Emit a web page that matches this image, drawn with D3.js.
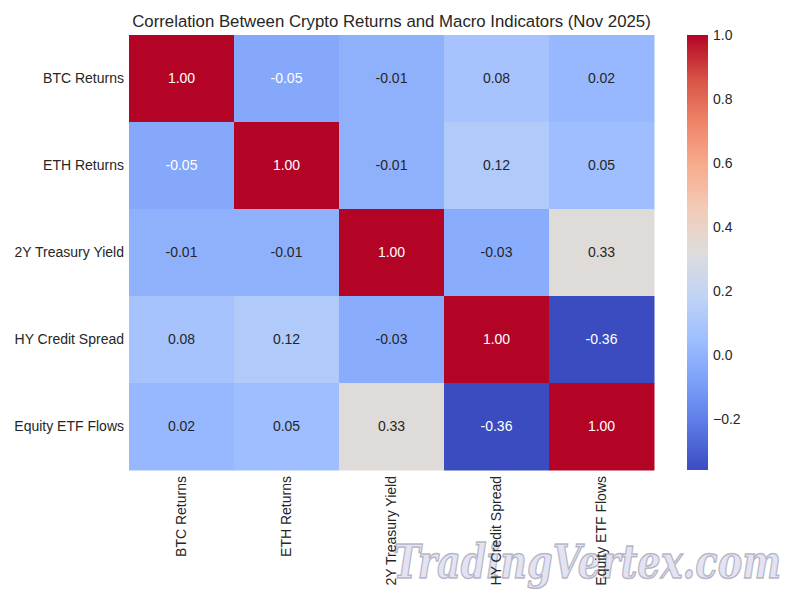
<!DOCTYPE html>
<html>
<head>
<meta charset="utf-8">
<script src="https://cdn.jsdelivr.net/npm/d3@7"></script>
<style>
  body { margin: 0; background: #fff; }
  text { font-family: "Liberation Sans", Arial, sans-serif; }
</style>
</head>
<body>
<svg id="chart"></svg>
<script>
// labels and correlation matrix
const labels = ["BTC Returns", "ETH Returns", "2Y Treasury Yield", "HY Credit Spread", "Equity ETF Flows"];
const corr = [
  [1.00, -0.05, -0.01, 0.08, 0.02],
  [-0.05, 1.00, -0.01, 0.12, 0.05],
  [-0.01, -0.01, 1.00, -0.03, 0.33],
  [0.08, 0.12, -0.03, 1.00, -0.36],
  [0.02, 0.05, 0.33, -0.36, 1.00]
];
const cbarTicks = [1.0, 0.8, 0.6, 0.4, 0.2, 0.0, -0.2];

const width = 800, height = 600;
const svg = d3.select("#chart").attr("width", width).attr("height", height);

// heatmap area
const hmLeft = 129, hmRight = 654, hmTop = 35, hmBottom = 470;

const x = d3.scaleBand().domain(labels).range([hmLeft, hmRight]);
const y = d3.scaleBand().domain(labels).range([hmTop, hmBottom]);

const vmin = d3.min(corr.flat()), vmax = d3.max(corr.flat());

// matplotlib coolwarm, sampled
const cw = ["#3b4cc0", "#5a78e4", "#7b9ff9", "#9ebeff", "#c0d4f5", "#dddcdc",
            "#f2cbb7", "#f7ac8e", "#ee8468", "#d65244", "#b40426"];
const cwScale = d3.scaleLinear()
  .domain(d3.range(11).map(i => i / 10))
  .range(cw)
  .interpolate(d3.interpolateRgb);
const color = v => cwScale((v - vmin) / (vmax - vmin));

function lum(c) {
  const rgb = d3.rgb(c);
  const f = u => { u /= 255; return u <= 0.03928 ? u / 12.92 : Math.pow((u + 0.055) / 1.055, 2.4); };
  return 0.2126 * f(rgb.r) + 0.7152 * f(rgb.g) + 0.0722 * f(rgb.b);
}

// watermark (behind the labels)
svg.append("text")
  .attr("x", 393)
  .attr("y", 578)
  .attr("textLength", 388)
  .attr("lengthAdjust", "spacingAndGlyphs")
  .style("font-family", "'DejaVu Serif', serif")
  .style("font-style", "italic")
  .style("font-weight", "bold")
  .style("font-size", "46px")
  .style("fill", "#dcdcf0")
  .style("fill-opacity", 0.8)
  .style("stroke", "#a8a8b8")
  .style("stroke-width", 1.5)
  .style("stroke-opacity", 0.8)
  .text("TradingVertex.com");

const cells = [];
corr.forEach((row, i) => row.forEach((v, j) => cells.push({ r: labels[i], c: labels[j], v })));

svg.selectAll(".cell")
  .data(cells)
  .enter()
  .append("rect")
  .attr("x", d => x(d.c))
  .attr("y", d => y(d.r))
  .attr("width", x.bandwidth() + 0.5)
  .attr("height", y.bandwidth() + 0.5)
  .style("fill", d => color(d.v));

svg.selectAll(".val")
  .data(cells)
  .enter()
  .append("text")
  .attr("x", d => x(d.c) + x.bandwidth() / 2)
  .attr("y", d => y(d.r) + y.bandwidth() / 2)
  .attr("dy", "0.35em")
  .attr("text-anchor", "middle")
  .style("font-size", "14px")
  .style("fill", d => lum(color(d.v)) > 0.408 ? "#262626" : "#ffffff")
  .text(d => d.v.toFixed(2));

// row labels
svg.selectAll(".ylab")
  .data(labels)
  .enter()
  .append("text")
  .attr("x", hmLeft - 5)
  .attr("y", d => y(d) + y.bandwidth() / 2)
  .attr("dy", "0.35em")
  .attr("text-anchor", "end")
  .style("font-size", "14px")
  .style("fill", "#262626")
  .text(d => d);

// column labels, rotated
svg.selectAll(".xlab")
  .data(labels)
  .enter()
  .append("text")
  .attr("transform", d => `translate(${x(d) + x.bandwidth() / 2},${hmBottom + 6}) rotate(-90)`)
  .attr("dy", "0.35em")
  .attr("text-anchor", "end")
  .style("font-size", "14px")
  .style("fill", "#262626")
  .text(d => d);

// title
svg.append("text")
  .attr("x", (hmLeft + hmRight) / 2)
  .attr("y", 27)
  .attr("text-anchor", "middle")
  .style("font-size", "16.8px")
  .style("fill", "#262626")
  .text("Correlation Between Crypto Returns and Macro Indicators (Nov 2025)");

// colorbar
const cbX = 687, cbW = 21;
const cb = d3.scaleLinear().domain([vmin, vmax]).range([hmBottom, hmTop]);
const defs = svg.append("defs");
const grad = defs.append("linearGradient")
  .attr("id", "cbgrad")
  .attr("x1", 0).attr("y1", 1).attr("x2", 0).attr("y2", 0);
grad.selectAll("stop")
  .data(d3.range(0, 1.0001, 0.05))
  .enter()
  .append("stop")
  .attr("offset", d => d)
  .attr("stop-color", d => cwScale(d));

svg.append("rect")
  .attr("x", cbX).attr("y", hmTop)
  .attr("width", cbW).attr("height", hmBottom - hmTop)
  .style("fill", "url(#cbgrad)");

svg.selectAll(".cbtick")
  .data(cbarTicks)
  .enter()
  .append("text")
  .attr("x", cbX + cbW + 5)
  .attr("y", d => cb(d))
  .attr("dy", "0.35em")
  .style("font-size", "14px")
  .style("fill", "#262626")
  .text(d => d < 0 ? "\u2212" + Math.abs(d).toFixed(1) : d.toFixed(1));
</script>
</body>
</html>
